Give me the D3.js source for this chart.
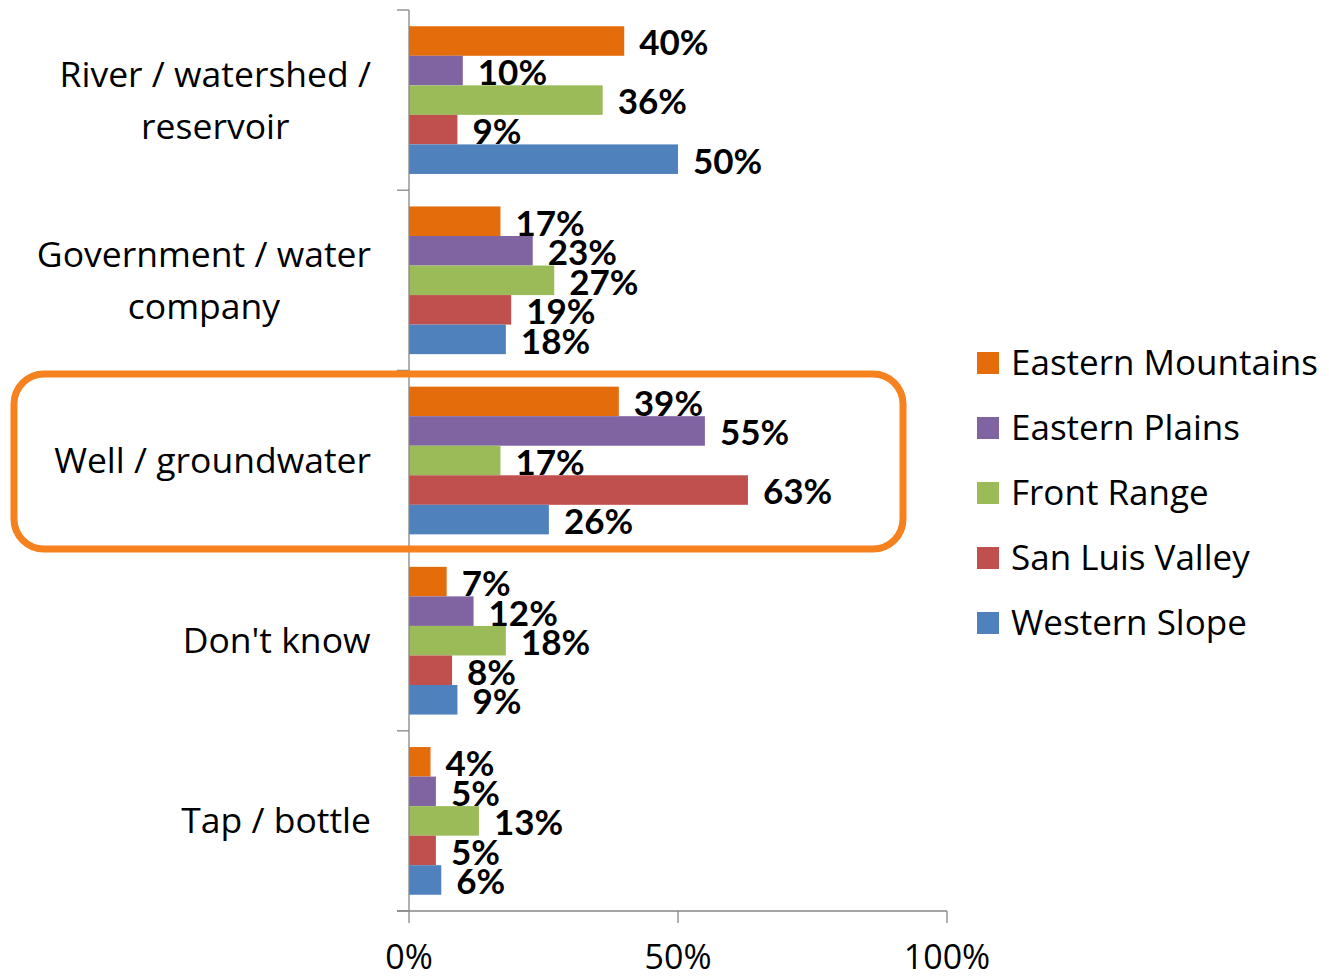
<!DOCTYPE html>
<html>
<head>
<meta charset="utf-8">
<script src="https://cdn.jsdelivr.net/npm/d3@7"></script>
<style>
  html, body { margin: 0; padding: 0; background: #fff; }
  svg { display: block; }
  text { font-family: "Open Sans", Lato, "Noto Sans", sans-serif; fill: #000; }
  text.val { font-family: Lato, "Open Sans", sans-serif; }
</style>
</head>
<body>
<svg id="chart" width="1329" height="979"></svg>
<script>
// Water source by region
const categories = [
  ["River / watershed /", "reservoir"],
  ["Government / water", "company"],
  ["Well / groundwater"],
  ["Don't know"],
  ["Tap / bottle"]
];
const categoryKeys = categories.map(c => c.join(" "));
const regions = ["Eastern Mountains", "Eastern Plains", "Front Range", "San Luis Valley", "Western Slope"];
const colors = ["#E46C0A", "#8064A2", "#9BBB59", "#C0504D", "#4F81BD"];

const easternMountains = [0.40, 0.17, 0.39, 0.07, 0.04];
const easternPlains    = [0.10, 0.23, 0.55, 0.12, 0.05];
const frontRange       = [0.36, 0.27, 0.17, 0.18, 0.13];
const sanLuisValley    = [0.09, 0.19, 0.63, 0.08, 0.05];
const westernSlope     = [0.50, 0.18, 0.26, 0.09, 0.06];
const seriesValues = [easternMountains, easternPlains, frontRange, sanLuisValley, westernSlope];

const xTicks = [0, 0.5, 1];
const highlighted = "Well / groundwater";

const svg = d3.select("#chart");
const axisColor = "#868686";

const x = d3.scaleLinear().domain([0, 1]).range([409, 947]);
const y = d3.scaleBand().domain(categoryKeys).range([10, 911]).paddingInner(0).paddingOuter(0);
const yInner = d3.scaleBand().domain(regions).range([0, y.bandwidth()]).paddingInner(0).paddingOuter(0.55);
const color = d3.scaleOrdinal().domain(regions).range(colors);
const pct = d3.format(".0%");

// Bars
const groups = svg.append("g").selectAll("g")
  .data(categoryKeys)
  .join("g")
  .attr("transform", d => `translate(0,${y(d)})`);

const rows = categoryKeys.map((c, ci) => regions.map((r, ri) => ({ cat: c, region: r, value: seriesValues[ri][ci] })));

groups.selectAll("rect")
  .data((d, i) => rows[i])
  .join("rect")
  .attr("x", x(0))
  .attr("y", d => yInner(d.region))
  .attr("width", d => x(d.value) - x(0))
  .attr("height", yInner.bandwidth())
  .attr("fill", d => color(d.region));

// Value labels
const labelSize = 35;
groups.selectAll("text.val")
  .data((d, i) => rows[i])
  .join("text")
  .attr("class", "val")
  .attr("x", d => x(d.value) + 15)
  .attr("y", d => yInner(d.region) + yInner.bandwidth() / 2 + labelSize * 0.41)
  .attr("font-size", labelSize)
  .attr("font-weight", "bold")
  .text(d => pct(d.value));

// Y axis: line with ticks at category boundaries
const yAxis = svg.append("g");
yAxis.append("line")
  .attr("x1", x(0)).attr("x2", x(0))
  .attr("y1", y.range()[0]).attr("y2", y.range()[1])
  .attr("stroke", axisColor).attr("stroke-width", 1.3);
const boundaries = categoryKeys.map(c => y(c)).concat([y.range()[1]]);
yAxis.selectAll("line.tick")
  .data(boundaries)
  .join("line")
  .attr("class", "tick")
  .attr("x1", x(0) - 12).attr("x2", x(0))
  .attr("y1", d => d).attr("y2", d => d)
  .attr("stroke", axisColor).attr("stroke-width", 1.3);

// X axis
const xAxis = svg.append("g").attr("transform", `translate(0,${y.range()[1]})`);
xAxis.append("line")
  .attr("x1", x(0) - 12).attr("x2", x(1))
  .attr("y1", 0).attr("y2", 0)
  .attr("stroke", axisColor).attr("stroke-width", 1.3);
xAxis.selectAll("line.tick")
  .data(xTicks)
  .join("line")
  .attr("class", "tick")
  .attr("x1", d => x(d)).attr("x2", d => x(d))
  .attr("y1", 0).attr("y2", 12)
  .attr("stroke", axisColor).attr("stroke-width", 1.3);
xAxis.selectAll("text")
  .data(xTicks)
  .join("text")
  .attr("x", d => x(d))
  .attr("y", 58)
  .attr("text-anchor", "middle")
  .attr("font-size", 34)
  .text(d => pct(d));

// Category labels: lines centred as a block, block right-aligned to the axis
const catSize = 35.5;
const lineGap = 52;
categories.forEach((lines, i) => {
  const key = categoryKeys[i];
  const g = svg.append("g");
  const t = g.append("text").attr("font-size", catSize).attr("text-anchor", "middle");
  const n = lines.length;
  lines.forEach((ln, j) => {
    t.append("tspan")
      .attr("x", 0)
      .attr("y", (j - (n - 1) / 2) * lineGap + catSize * 0.35)
      .text(ln);
  });
  const bb = t.node().getBBox();
  const right = 371;
  g.attr("transform", `translate(${right - (bb.x + bb.width)},${y(key) + y.bandwidth() / 2})`);
});

// Highlight box around one category
svg.append("rect")
  .attr("x", 14)
  .attr("y", y(highlighted) + 3.5)
  .attr("width", 889)
  .attr("height", y.bandwidth() - 5)
  .attr("rx", 30).attr("ry", 30)
  .attr("fill", "none")
  .attr("stroke", "#F5821F")
  .attr("stroke-width", 7);

// Legend
const legendSize = 35;
const legend = svg.append("g").selectAll("g")
  .data(regions)
  .join("g")
  .attr("transform", (d, i) => `translate(977,${352 + i * 65})`);
legend.append("rect")
  .attr("width", 22).attr("height", 22)
  .attr("fill", d => color(d));
legend.append("text")
  .attr("x", 34)
  .attr("y", 11 + legendSize * 0.35)
  .attr("font-size", legendSize)
  .text(d => d);
</script>
</body>
</html>
